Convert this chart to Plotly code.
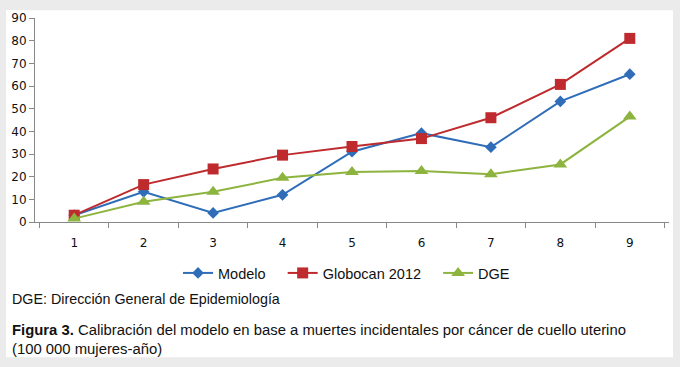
import plotly.graph_objects as go

categories = ["1", "2", "3", "4", "5", "6", "7", "8", "9"]
modelo = [3, 13.3, 4, 12, 31, 39.2, 33, 53.2, 65.2]
globocan = [3, 16.5, 23.4, 29.5, 33.3, 36.8, 46, 60.7, 81]
dge = [1.5, 8.9, 13.3, 19.5, 22.1, 22.5, 21.1, 25.4, 46.5]
names = ["Modelo", "Globocan 2012", "DGE"]

W, H = 680, 367
L, R, T, B = 34, 11, 14, 145
pw = W - L - R
ph = H - T - B

def px(x):
    return (x - L) / pw

def py(y):
    return (H - B - y) / ph

pad = "\u00a0\u00a0\u00a0"

fig = go.Figure()
fig.add_trace(go.Scatter(x=categories, y=modelo, name=names[0] + pad, mode="lines+markers",
                         line=dict(color="#2F6DB8", width=2),
                         marker=dict(symbol="diamond", size=9, color="#2F6DB8")))
fig.add_trace(go.Scatter(x=categories, y=globocan, name=names[1] + pad, mode="lines+markers",
                         line=dict(color="#BE2A2E", width=2),
                         marker=dict(symbol="square", size=11, color="#BE2A2E")))
fig.add_trace(go.Scatter(x=categories, y=dge, name=names[2], mode="lines+markers",
                         line=dict(color="#8DB43E", width=2),
                         marker=dict(symbol="triangle-up", size=12, color="#8DB43E")))

fig.add_shape(type="rect", xref="paper", yref="paper",
              x0=px(5), x1=px(673), y0=py(360), y1=py(6),
              fillcolor="white", line=dict(width=0), layer="below")

tickfont = dict(family="DejaVu Sans, Verdana, sans-serif", size=12, color="#111")

fig.update_layout(
    width=W, height=H,
    margin=dict(l=L, r=R, t=T, b=B),
    paper_bgcolor="#EBEBEB", plot_bgcolor="white",
    font=dict(family="Liberation Sans, Arial, sans-serif", color="#111"),
    showlegend=True,
    legend=dict(orientation="h", x=px(346), xanchor="center", y=py(274), yanchor="middle",
                font=dict(size=14.5, family="Liberation Sans, Arial, sans-serif", color="#111"),
                bgcolor="rgba(0,0,0,0)", itemwidth=30),
    xaxis=dict(type="category", tickson="boundaries", ticks="outside", ticklen=5,
               tickcolor="#888", showline=True, linecolor="#888", linewidth=1,
               showgrid=False, zeroline=False, tickfont=tickfont,
               ticklabelstandoff=10),
    yaxis=dict(range=[0, 90], dtick=10, ticks="outside", ticklen=5, tickcolor="#888",
               showline=True, linecolor="#888", linewidth=1, showgrid=False, zeroline=False,
               tickfont=tickfont),
)

fig.add_annotation(xref="paper", yref="paper", x=px(9), y=py(300), xanchor="left", yanchor="middle",
                   text="DGE: Dirección General de Epidemiología", showarrow=False,
                   font=dict(size=14.3, color="#111"))
fig.add_annotation(xref="paper", yref="paper", x=px(9), y=py(342), xanchor="left", yanchor="middle",
                   text="<b>Figura 3.</b> Calibración del modelo en base a muertes incidentales por cáncer de cuello uterino<br>(100 000 mujeres-año)",
                   showarrow=False, align="left",
                   font=dict(size=14.85, color="#111"))

fig.write_html("out.html", config={"displayModeBar": False},
               post_script="document.body.style.margin='0';document.body.style.background='#EBEBEB';")
